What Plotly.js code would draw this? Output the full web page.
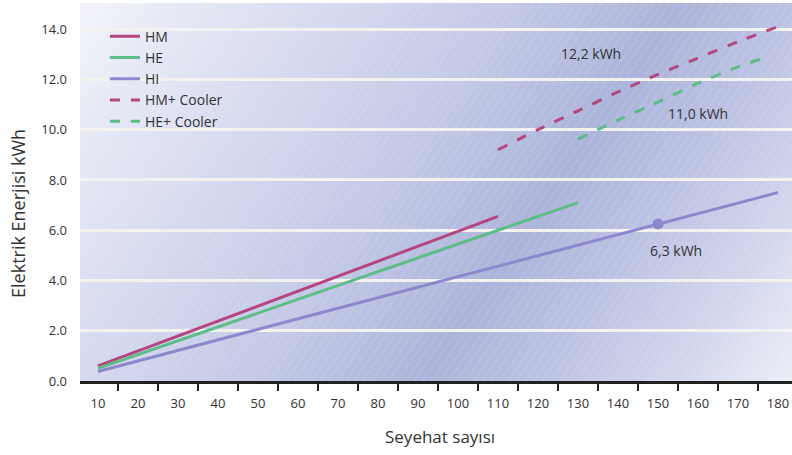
<!DOCTYPE html>
<html>
<head>
<meta charset="utf-8">
<script src="https://cdn.plot.ly/plotly-3.0.1.min.js"></script>
<style>
html,body{margin:0;padding:0;background:#fff;}
#chart{width:792px;height:455px;}
</style>
</head>
<body>
<div id="chart"></div>
<script>
// ---- data ----
const seriesNames = ["HM", "HE", "HI", "HM+ Cooler", "HE+ Cooler"];
const hmX = [10, 110];
const hmY = [0.6, 6.55];
const heX = [10, 130];
const heY = [0.5, 7.1];
const hiX = [10, 150, 180];
const hiY = [0.38, 6.25, 7.5];
const hmCoolX = [110, 120, 130, 140, 150, 160, 170, 180];
const hmCoolY = [9.2, 10.0, 10.75, 11.5, 12.2, 12.85, 13.5, 14.1];
const heCoolX = [130, 140, 150, 160, 170, 177];
const heCoolY = [9.62, 10.38, 11.1, 11.85, 12.5, 12.88];
const markX = [150];
const markY = [6.25];
const xTickVals = [10,20,30,40,50,60,70,80,90,100,110,120,130,140,150,160,170,180];
const yTickVals = [0,2,4,6,8,10,12,14];
const labels = [
  {text: "12,2 kWh", x: 133.3, y: 13.05},
  {text: "11,0 kWh", x: 160, y: 10.66},
  {text: "6,3 kWh", x: 154.5, y: 5.2}
];

const cHM = "#b4477f", cHE = "#5cbd86", cHI = "#8c88cc";
const FONT = "Open Sans, Noto Sans, sans-serif";

// background image (gradient + hatch)
const W = 712, H = 378;
const svg = `<svg xmlns="http://www.w3.org/2000/svg" width="${W}" height="${H}" viewBox="0 0 ${W} ${H}" preserveAspectRatio="none">
<defs>
<linearGradient id="g" gradientUnits="userSpaceOnUse" x1="67" y1="-98" x2="728" y2="354">
<stop offset="0" stop-color="#f3f4fa"/>
<stop offset="0.12" stop-color="#e4e7f4"/>
<stop offset="0.28" stop-color="#d4d8ee"/>
<stop offset="0.45" stop-color="#c2c8e6"/>
<stop offset="0.62" stop-color="#abb4da"/>
<stop offset="0.74" stop-color="#bcc2e3"/>
<stop offset="0.88" stop-color="#d3d7ed"/>
<stop offset="1" stop-color="#eceef7"/>
</linearGradient>
<pattern id="p" width="7" height="7" patternUnits="userSpaceOnUse" patternTransform="rotate(35)">
<line x1="0" y1="0" x2="0" y2="7" stroke="#ffffff" stroke-opacity="0.35" stroke-width="0.8"/>
</pattern>
</defs>
<rect width="${W}" height="${H}" fill="url(#g)"/>
<rect width="${W}" height="${H}" fill="url(#p)"/>
</svg>`;
const bgUri = "data:image/svg+xml;charset=utf-8," + encodeURIComponent(svg);

const traces = [
  {x: hmX, y: hmY, name: seriesNames[0], mode: "lines", line: {color: cHM, width: 3}},
  {x: heX, y: heY, name: seriesNames[1], mode: "lines", line: {color: cHE, width: 3}},
  {x: hiX, y: hiY, name: seriesNames[2], mode: "lines", line: {color: cHI, width: 3}},
  {x: hmCoolX, y: hmCoolY, name: seriesNames[3], mode: "lines", line: {color: cHM, width: 3, dash: "10px,11px", shape: "spline", smoothing: 0.6}},
  {x: heCoolX, y: heCoolY, name: seriesNames[4], mode: "lines", line: {color: cHE, width: 3, dash: "10px,11px", shape: "spline", smoothing: 0.6}},
  {x: markX, y: markY, mode: "markers", showlegend: false, marker: {color: cHI, size: 11}, hoverinfo: "skip"}
];

const annotations = labels.map(l => ({
  text: l.text, x: l.x, y: l.y, xref: "x", yref: "y", showarrow: false,
  font: {family: FONT, size: 14, color: "#333"}, xanchor: "center", yanchor: "middle"
}));
annotations.push({
  text: "Elektrik Enerjisi kWh", xref: "paper", yref: "paper", x: -0.087, y: 0.442,
  textangle: -90, showarrow: false, xanchor: "center", yanchor: "middle",
  font: {family: FONT, size: 18, color: "#333"}
});
annotations.push({
  text: "Seyehat sayısı", xref: "paper", yref: "paper", x: 0.505, y: -0.148,
  showarrow: false, xanchor: "center", yanchor: "middle",
  font: {family: FONT, size: 17, color: "#333"}
});

const layout = {
  width: 792, height: 455,
  margin: {l: 80, r: 0, t: 3, b: 74, pad: 0},
  paper_bgcolor: "#ffffff",
  plot_bgcolor: "rgba(0,0,0,0)",
  font: {family: FONT, size: 13, color: "#333"},
  images: [{source: bgUri, xref: "paper", yref: "paper", x: 0, y: 1, sizex: 1, sizey: 1,
            sizing: "stretch", layer: "below", xanchor: "left", yanchor: "top"}],
  xaxis: {
    range: [5.5, 183.5], tickmode: "array", tickvals: xTickVals,
    ticks: "outside", ticklen: 9, tickcolor: "rgba(0,0,0,0)",
    showgrid: false, zeroline: false,
    showline: true, linecolor: "#222", linewidth: 2.5,
    tickfont: {family: FONT, size: 13, color: "#333"},
    minor: {tickmode: "linear", tick0: 15, dtick: 10, ticks: "outside", ticklen: 7, tickwidth: 2, tickcolor: "#222", showgrid: false}
  },
  yaxis: {
    range: [0, 15.04], tickmode: "array", tickvals: yTickVals, tickformat: ".1f",
    ticks: "", ticklabelstandoff: 12,
    showgrid: true, gridcolor: "#f3f2ee", gridwidth: 3, zeroline: false, showline: false,
    tickfont: {family: FONT, size: 13, color: "#333"}
  },
  legend: {
    x: 0.035, y: 0.953, xanchor: "left", yanchor: "top",
    bgcolor: "rgba(0,0,0,0)", borderwidth: 0,
    font: {family: FONT, size: 14, color: "#333"}
  },
  annotations: annotations,
  showlegend: true
};

Plotly.newPlot("chart", traces, layout, {displayModeBar: false, staticPlot: true});
</script>
</body>
</html>
